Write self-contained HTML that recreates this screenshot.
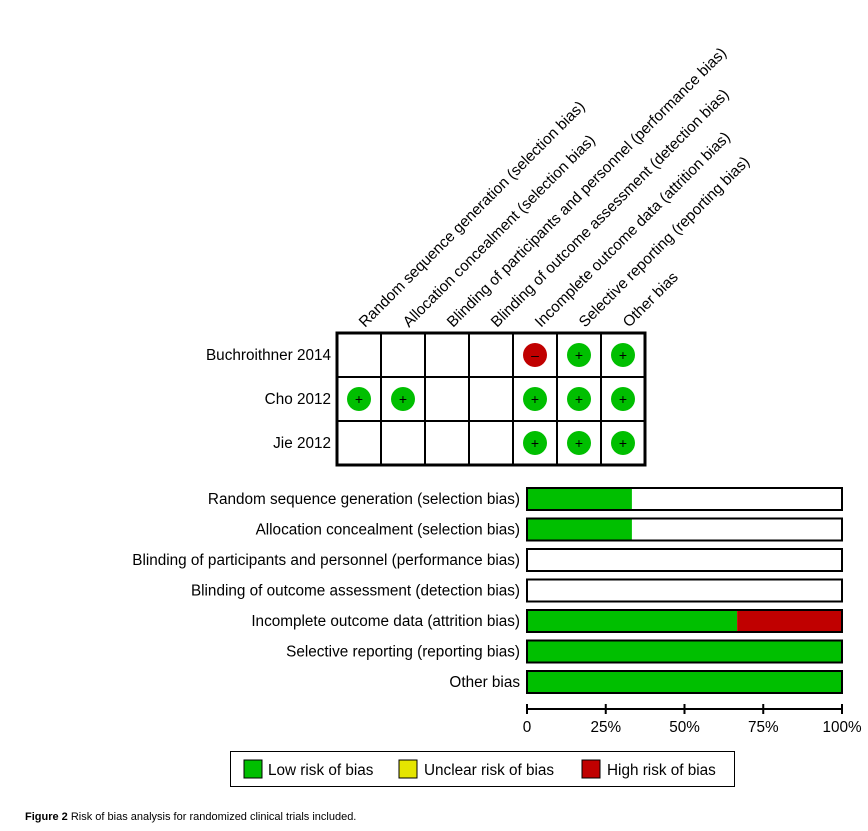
<!DOCTYPE html>
<html><head><meta charset="utf-8"><style>
body{margin:0;background:#fff;}
svg{display:block;font-family:"Liberation Sans",Arial,sans-serif;}
</style></head><body>
<svg id="chart" width="868" height="831" viewBox="0 0 868 831">
<g id="grid"></g>
<g id="bars"></g>
<g id="axis"></g>
<g>
<rect x="230.5" y="751.5" width="504" height="35" fill="#fff" stroke="#000"/>
<rect x="244" y="760" width="18" height="18" fill="#00bf00" stroke="#000"/>
<text x="268" y="775" font-size="15.3">Low risk of bias</text>
<rect x="399" y="760" width="18" height="18" fill="#e5e500" stroke="#000"/>
<text x="424" y="775" font-size="15.3">Unclear risk of bias</text>
<rect x="582" y="760" width="18" height="18" fill="#c00000" stroke="#000"/>
<text x="607" y="775" font-size="15.3">High risk of bias</text>
</g>
<text x="25" y="820" font-size="11" font-family="Liberation Sans,sans-serif"><tspan font-weight="bold">Figure 2</tspan> Risk of bias analysis for randomized clinical trials included.</text>
</svg>
<script>
const domains=["Random sequence generation (selection bias)","Allocation concealment (selection bias)","Blinding of participants and personnel (performance bias)","Blinding of outcome assessment (detection bias)","Incomplete outcome data (attrition bias)","Selective reporting (reporting bias)","Other bias"];
const studies=["Buchroithner 2014","Cho 2012","Jie 2012"];
const judgments=[["","","","","H","L","L"],["L","L","","","L","L","L"],["","","","","L","L","L"]];
const lowPct=[33.3,33.3,0,0,66.7,100,100];
const unclearPct=[0,0,0,0,0,0,0];
const highPct=[0,0,0,0,33.3,0,0];
const ticks=[0,25,50,75,100];
const tickLabels=["0","25%","50%","75%","100%"];
const NS="http://www.w3.org/2000/svg";
function mk(p,t,a){const e=document.createElementNS(NS,t);for(const k in a)e.setAttribute(k,a[k]);p.appendChild(e);return e;}
const col={L:"#00bf00",U:"#e5e500",H:"#c00000"};
const FS=15.3;
const g=document.getElementById('grid');
const gx0=337,cw=44,gy0=333,rh=44;
domains.forEach((d,i)=>{const cx=gx0+cw*i+cw/2+6;
 const t=mk(g,'text',{x:cx,y:gy0-5,'font-size':FS,transform:`rotate(-45 ${cx} ${gy0-5})`});t.textContent=d;
 
 });
studies.forEach((s,r)=>{const cy=gy0+rh*r+rh/2;
 const t=mk(g,'text',{x:331,y:cy+5,'font-size':FS,'text-anchor':'end'});t.textContent=s;
 
 
 domains.forEach((d,i)=>{const x=gx0+cw*i;
  const c=mk(g,'rect',{x:x,y:gy0+rh*r,width:cw,height:rh,fill:'#fff',stroke:'#000','stroke-width':2});
  
  
  const j=judgments[r][i];
  if(j){const cc=mk(g,'circle',{cx:x+cw/2,cy:cy,r:12,fill:col[j]});
   
   
   const s2=mk(g,'text',{x:x+cw/2,y:cy+5,'font-size':14,'text-anchor':'middle',fill:'#000'});s2.textContent=j==='H'?'–':'+';
   
   }
 });});
mk(g,'rect',{x:gx0,y:gy0,width:cw*7,height:rh*3,fill:'none',stroke:'#000','stroke-width':3});
const b=document.getElementById('bars');
const bx0=527,bw=315,by0=488,bs=30.5,bh=22;
const X=v=>bx0+bw*v/100;
domains.forEach((d,i)=>{const y=by0+bs*i;
 const t=mk(b,'text',{x:520,y:y+bh/2+5,'font-size':FS,'text-anchor':'end'});t.textContent=d;
 
 
 const bg=mk(b,'rect',{x:bx0,y:y,width:bw,height:bh,fill:'#fff'});
 
 
 let acc=0;[[lowPct,'L'],[unclearPct,'U'],[highPct,'H']].forEach(([arr,k])=>{const v=arr[i];if(v>0){
  const r=mk(b,'rect',{x:X(acc),y:y,width:X(acc+v)-X(acc),height:bh,fill:col[k]});
  
  acc+=v;}});
 mk(b,'rect',{x:bx0,y:y,width:bw,height:bh,fill:'none',stroke:'#000','stroke-width':2});
});
const a=document.getElementById('axis');const ay=709;
mk(a,'line',{x1:X(0),x2:X(100),y1:ay,y2:ay,stroke:'#000','stroke-width':2});
ticks.forEach((v,i)=>{mk(a,'line',{x1:X(v),x2:X(v),y1:ay-5,y2:ay+5,stroke:'#000','stroke-width':2});
 const t=mk(a,'text',{x:X(v),y:ay+23,'font-size':FS,'text-anchor':'middle'});t.textContent=tickLabels[i];
 
 });
</script>
</body></html>
